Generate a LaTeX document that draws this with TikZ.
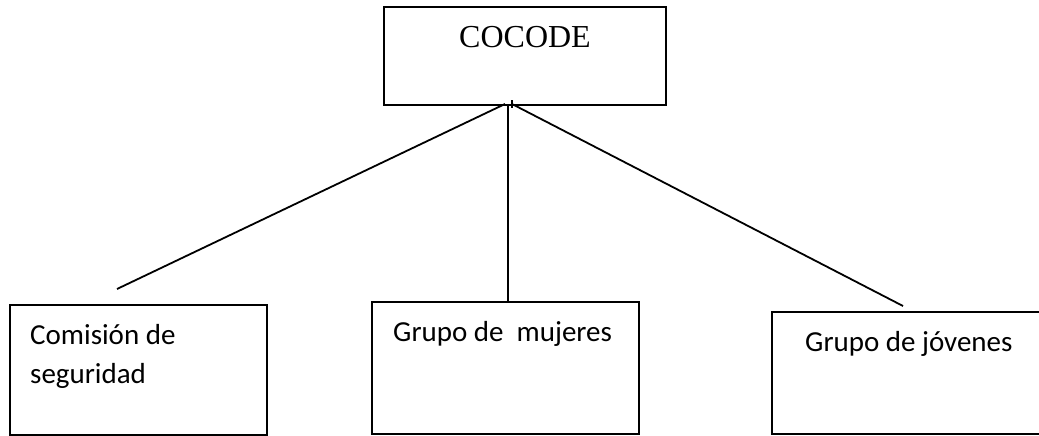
\documentclass[tikz,border=0pt]{standalone}
\usepackage{fontspec}
\setmainfont{Carlito}
\newfontfamily\timesface{Liberation Serif}
\begin{document}
\begin{tikzpicture}[x=1pt,y=-1pt,
  box/.style={draw=black,line width=2pt,fill=none,inner sep=0pt},
  conn/.style={draw=black,line width=1.8pt},
  lbl/.style={inner sep=0pt,anchor=base west,font=\fontsize{29}{39}\selectfont},
]
\useasboundingbox (0,0) rectangle (1039,436);
% boxes
\node[box,minimum width=282pt,minimum height=98pt] (top) at (525,56) {};
\node[box,minimum width=257pt,minimum height=130pt] (left) at (138.5,370) {};
\node[box,minimum width=267pt,minimum height=132pt] (mid) at (505.5,368) {};
\node[box,minimum width=290pt,minimum height=122pt] (right) at (917,373) {};
% labels
\node[inner sep=0pt,anchor=base,font=\timesface\fontsize{32}{38}\selectfont] (tcocode) at (525,48) {COCODE};
\node[lbl] (tcom1) at (30,344) {Comisión de};
\node[lbl] (tcom2) at (30,383) {seguridad};
\node[lbl] (tmuj) at (393,341) {Grupo de\ \ mujeres};
\node[lbl] (tjov) at (805,351) {Grupo de jóvenes};
% connector endpoints
\coordinate (apexL) at (505,104);
\coordinate (apexM) at (508,104);
\coordinate (apexR) at (512,104);
\coordinate (tickT) at (512,100);
\coordinate (tickB) at (512,108);
\coordinate (endL) at (117,289);
\coordinate (endR) at (903,306);
% connectors
\draw[conn] (apexL) -- (endL);
\draw[conn] (apexM) -- (mid.north -| apexM);
\draw[conn] (apexR) -- (endR);
\draw[conn,line width=1.2pt] (tickT) -- (tickB);
\end{tikzpicture}
\end{document}
